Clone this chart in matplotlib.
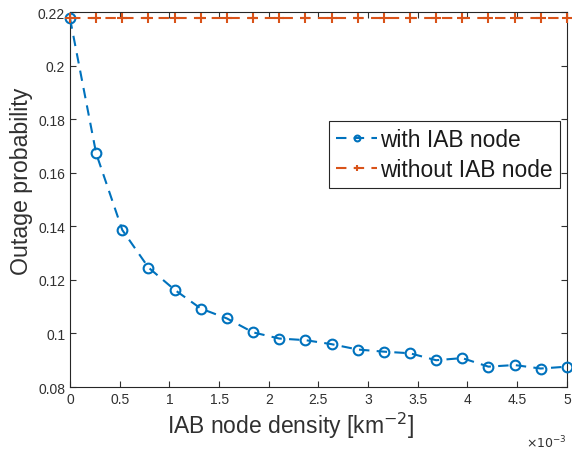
import numpy as np
import matplotlib
matplotlib.use("Agg")
import matplotlib.pyplot as plt

plt.rcParams['font.family'] = ['Liberation Sans', 'DejaVu Sans']

density = np.linspace(0, 5e-3, 20)
with_iab = [0.2176, 0.1672, 0.1386, 0.1246, 0.1163, 0.1093, 0.1056, 0.1004, 0.0981, 0.0975,
            0.0960, 0.0940, 0.0932, 0.0926, 0.0900, 0.0908, 0.0876, 0.0882, 0.0869, 0.0876]
without_iab = [0.2176] * 20
xtick_vals = [0, 0.5, 1, 1.5, 2, 2.5, 3, 3.5, 4, 4.5, 5]
ytick_vals = [0.08, 0.1, 0.12, 0.14, 0.16, 0.18, 0.2, 0.22]

blue = '#0072BD'
orange = '#D95319'
txt = '#303030'

fig = plt.figure(figsize=(5.72, 4.6), dpi=100)
ax = fig.add_axes([0.1224, 0.1565, 0.8686, 0.8152])

ax.plot(density, with_iab, '--o', color=blue, lw=1.5, ms=7, mfc='none', mew=1.5,
        dashes=(5, 3.5), label='with IAB node', clip_on=False, zorder=3)
ax.plot(density, without_iab, '--+', color=orange, lw=1.5, ms=6.5, mew=1.5,
        dashes=(5, 3.5), label='without IAB node', clip_on=False, zorder=3)

ax.set_xlim(0, 5e-3)
ax.set_ylim(0.08, 0.22)
ax.set_xticks([v * 1e-3 for v in xtick_vals])
ax.set_xticklabels([f'{v:g}' for v in xtick_vals])
ax.set_yticks(ytick_vals)
ax.set_yticklabels([f'{v:g}' for v in ytick_vals])
ax.tick_params(direction='in', top=True, right=True, labelsize=10, colors=txt,
               length=4, width=0.8)
for s in ax.spines.values():
    s.set_color('#262626')
    s.set_linewidth(0.8)

ax.set_xlabel('IAB node density [km$^{-2}$]', fontsize=16.5, color=txt)
ax.xaxis.set_label_coords(0.445, -0.06, transform=ax.transAxes)
ax.xaxis.label.set_va('top')
ax.set_ylabel('Outage probability', fontsize=16.7, color=txt)
ax.yaxis.set_label_coords(-0.075, 0.552, transform=ax.transAxes)
ax.text(1.0, -0.125, r'$\times10^{-3}$', transform=ax.transAxes, ha='right', va='top',
        fontsize=9, color=txt)

leg = ax.legend(loc='upper right', bbox_to_anchor=(0.986, 0.709), fontsize=16.4,
                frameon=True, fancybox=False, edgecolor='#262626', framealpha=1,
                handlelength=1.8, handletextpad=0.15, borderpad=0.3, labelspacing=0.3,
                borderaxespad=0, markerscale=0.6)
leg.get_frame().set_linewidth(0.8)
for t in leg.get_texts():
    t.set_color('#1a1a1a')

fig.savefig('out.png', dpi=100)
